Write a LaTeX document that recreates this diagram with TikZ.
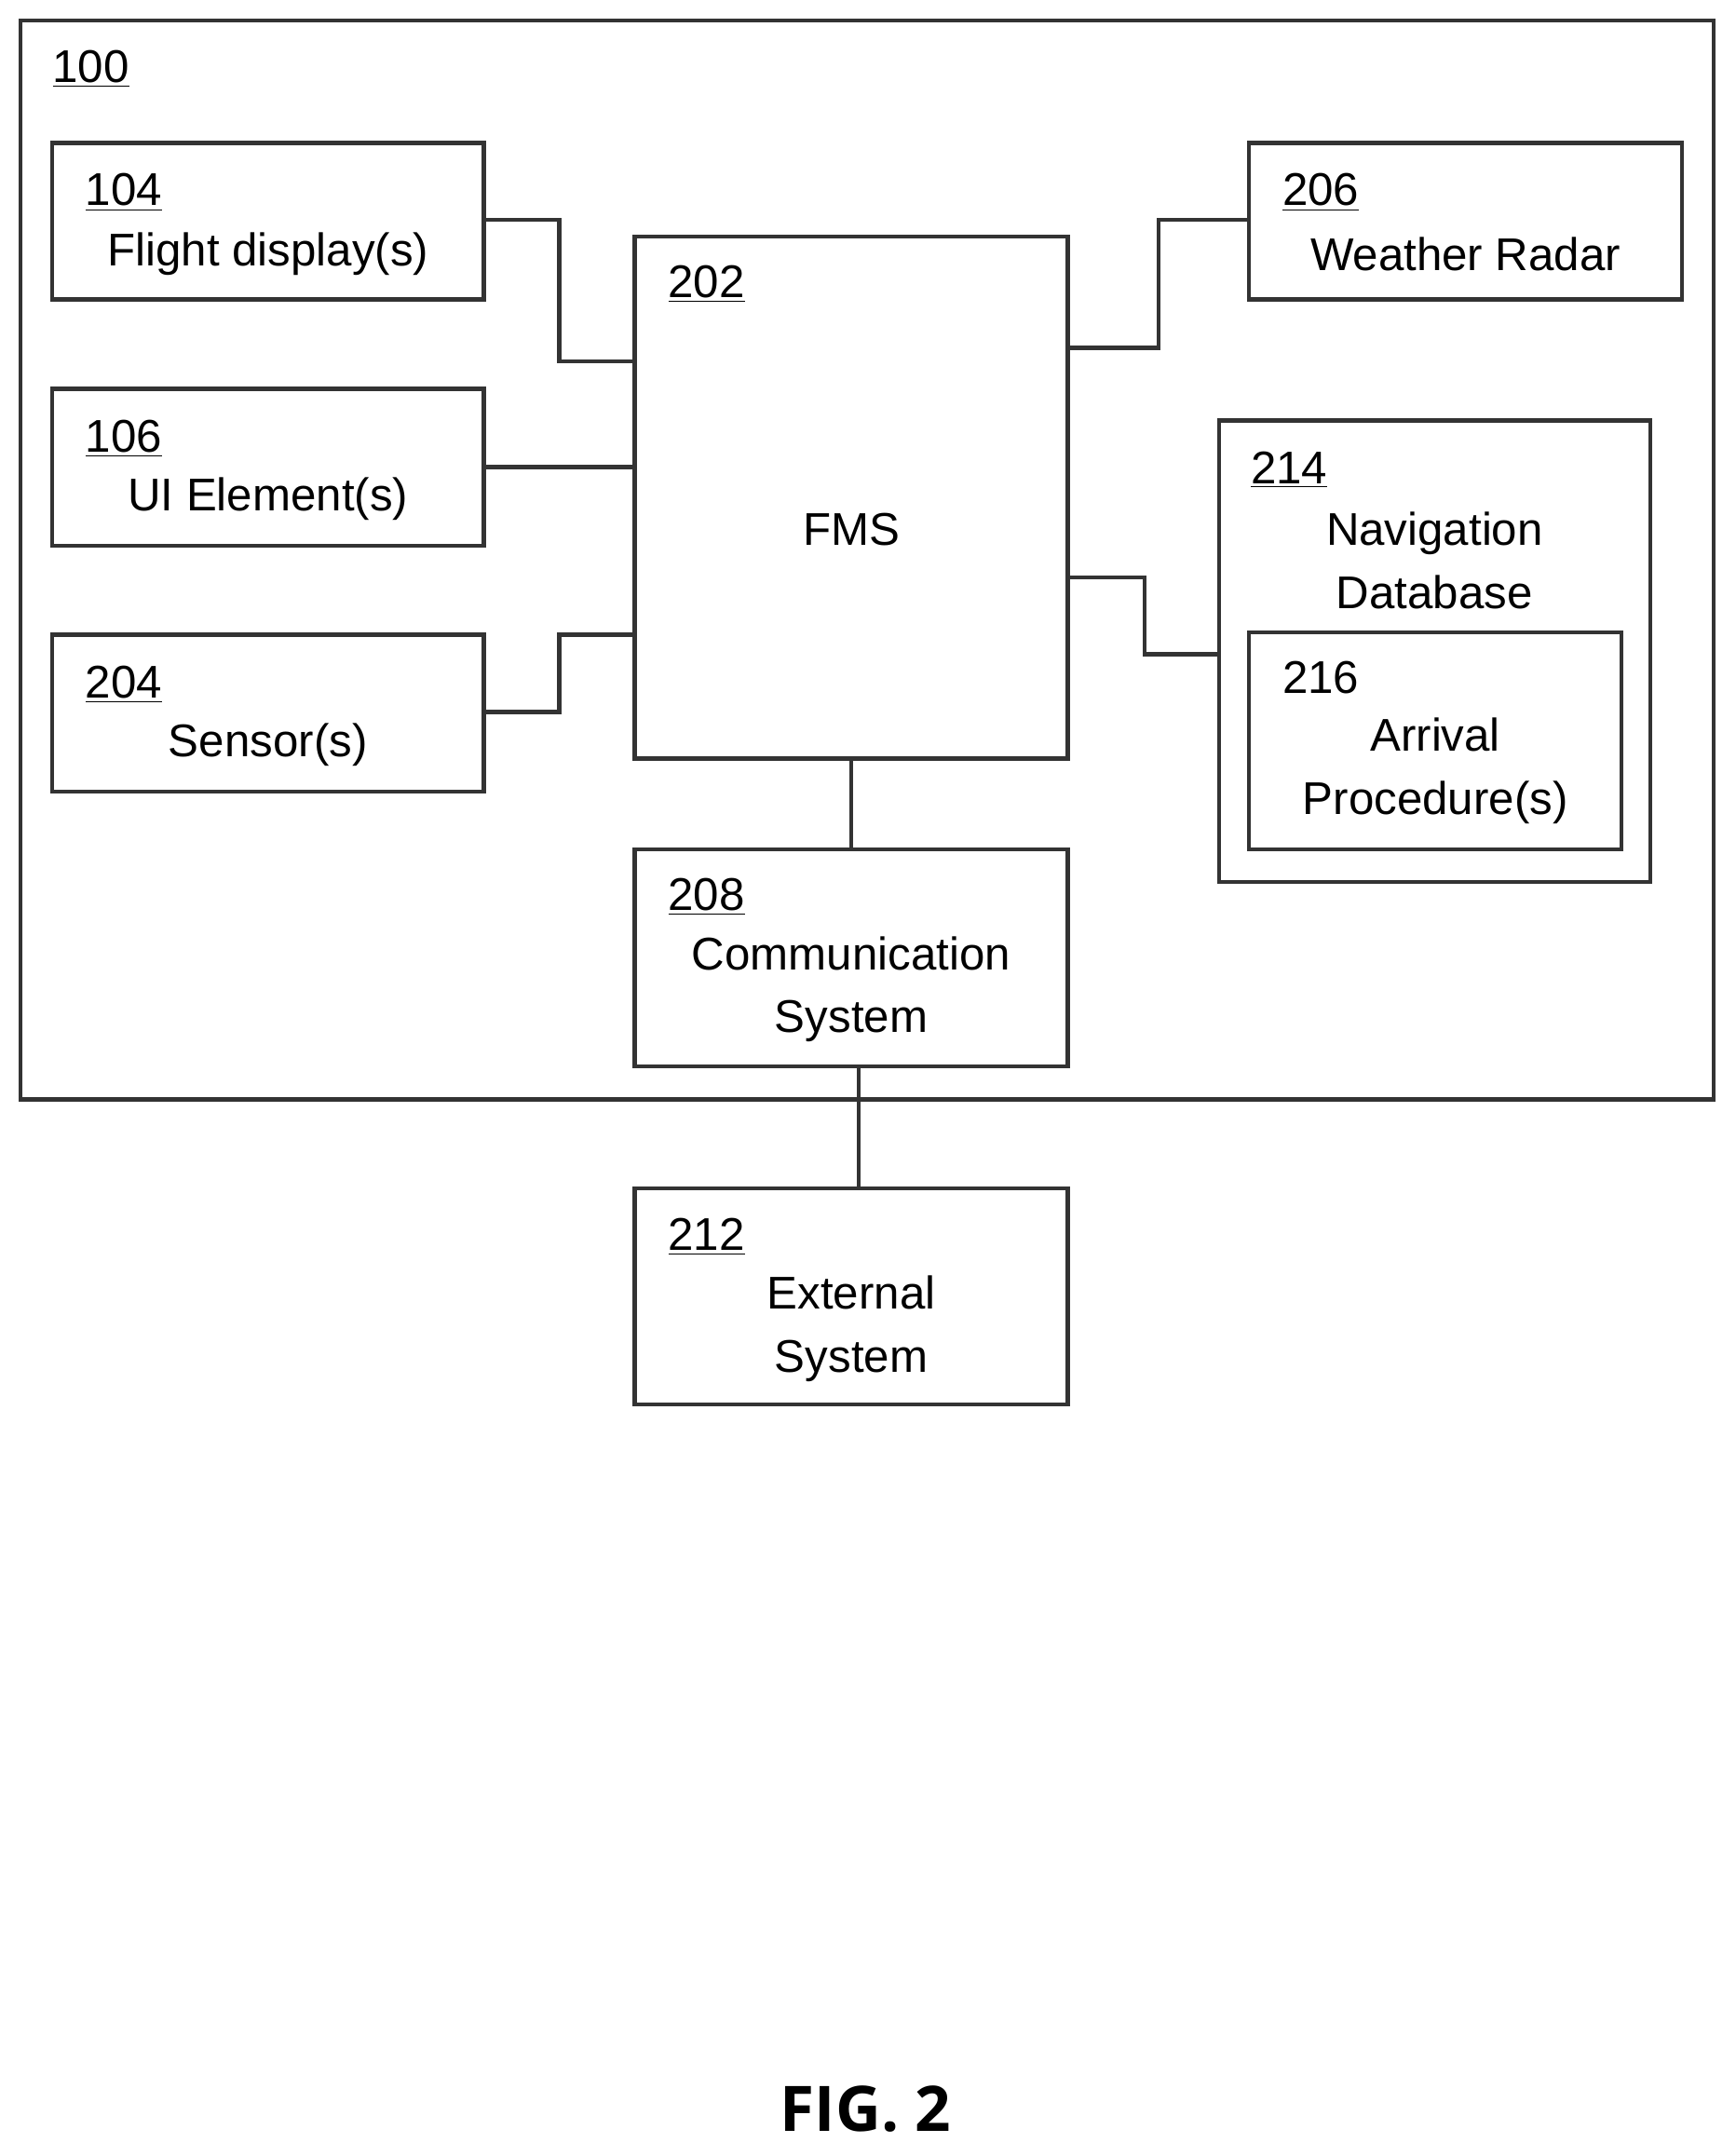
\documentclass[tikz,border=0pt]{standalone}
\usepackage{fontspec}
\setmainfont{Liberation Sans}
\newfontfamily\figfont{Open Sans}
\usetikzlibrary{positioning}

\tikzset{
  blk/.style={draw=black!80, line width=1.7pt, rectangle, inner sep=0pt},
  wire/.style={draw=black!80, line width=1.7pt},
  num/.style={anchor=west, inner sep=0pt, font=\fontsize{19}{22}\selectfont},
  txt/.style={inner sep=0pt, align=center, font=\fontsize{19}{26}\selectfont}
}
\newcommand{\refnum}[1]{\underline{#1}}

\begin{document}
\begin{tikzpicture}[x=0.02cm, y=-0.02cm]
  \useasboundingbox (0,0) rectangle (1263,1569);

  % outer system
  \node[blk, minimum width=1232*0.02cm, minimum height=785*0.02cm] (sys) at (631,407.5) {};
  \node[num] (sysnum) at (38,50) {\refnum{100}};

  % left column
  \node[blk, minimum width=314*0.02cm, minimum height=114*0.02cm] (disp) at (195,161) {};
  \node[num] at (62,140) {\refnum{104}};
  \node[txt] at (195,185) {Flight display(s)};

  \node[blk, minimum width=314*0.02cm, minimum height=114*0.02cm] (ui) at (195,340) {};
  \node[num] at (62,319) {\refnum{106}};
  \node[txt] at (195,363) {UI Element(s)};

  \node[blk, minimum width=314*0.02cm, minimum height=114*0.02cm] (sens) at (195,519) {};
  \node[num] at (62,498) {\refnum{204}};
  \node[txt] at (195,542) {Sensor(s)};

  % FMS
  \node[blk, minimum width=315*0.02cm, minimum height=380*0.02cm] (fms) at (619.5,362) {};
  \node[num] at (486,207) {\refnum{202}};
  \node[txt] at (619.5,385) {FMS};

  % right column
  \node[blk, minimum width=315*0.02cm, minimum height=114*0.02cm] (radar) at (1066.5,161) {};
  \node[num] at (933,140) {\refnum{206}};
  \node[txt] at (1066.5,185) {Weather Radar};

  \node[blk, minimum width=314*0.02cm, minimum height=336*0.02cm] (navdb) at (1044,474) {};
  \node[num] at (910,342) {\refnum{214}};
  \node[txt] at (1044,408) {Navigation\\Database};
  \node[blk, minimum width=271*0.02cm, minimum height=158*0.02cm] (arr) at (1044.5,539) {};
  \node[num] at (933,493) {216};
  \node[txt] at (1044.5,561) {Arrival\\Procedure(s)};

  % communication
  \node[blk, minimum width=315*0.02cm, minimum height=158*0.02cm] (comm) at (619.5,697) {};
  \node[num] at (486,653) {\refnum{208}};
  \node[txt] at (619.5,720) {Communication\\System};

  \node[blk, minimum width=315*0.02cm, minimum height=157*0.02cm] (ext) at (619.5,943.5) {};
  \node[num] at (486,900) {\refnum{212}};
  \node[txt] at (619.5,967) {External\\System};

  % connections
  \draw[wire] (disp.east |- 0,160) -| (407,263) -- (fms.west |- 0,263);
  \draw[wire] (ui.east) -- (fms.west |- ui.east);
  \draw[wire] (sens.east |- 0,518) -| (407,462) -- (fms.west |- 0,462);
  \draw[wire] (fms.east |- 0,253) -| (843,160) -- (radar.west |- 0,160);
  \draw[wire] (fms.east |- 0,420) -| (833,476) -- (navdb.west |- 0,476);
  \draw[wire] (fms.south) -- (comm.north);
  \draw[wire] (comm.south -| 625,0) -- (ext.north -| 625,0);

  \node[inner sep=0pt, font=\figfont\bfseries\fontsize{26}{30}\selectfont] (fig) at (630,1535) {FIG. 2};
\end{tikzpicture}
\end{document}
